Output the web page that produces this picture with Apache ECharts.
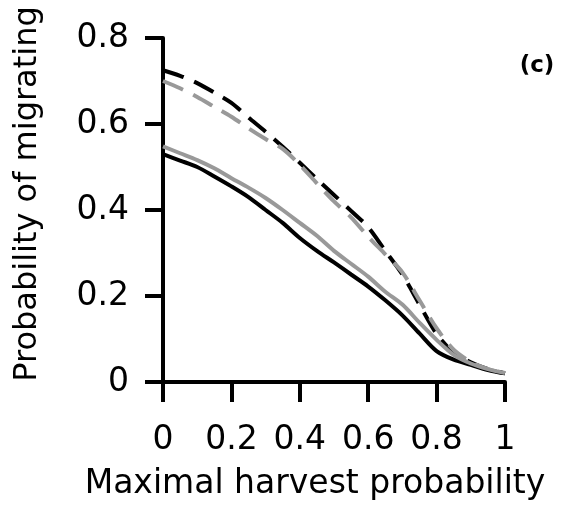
<!DOCTYPE html>
<html>
<head>
<meta charset="utf-8">
<script src="https://cdn.jsdelivr.net/npm/echarts@6/dist/echarts.min.js"></script>
<style>
  html, body { margin: 0; padding: 0; background: #fff; }
  #chart { width: 561px; height: 506px; }
</style>
</head>
<body>
<div id="chart"></div>
<script>
// Maximal harvest probability (x)
const harvest = [0, 0.05, 0.1, 0.15, 0.2, 0.25, 0.3, 0.35, 0.4, 0.45, 0.5,
                 0.55, 0.6, 0.65, 0.7, 0.75, 0.8, 0.85, 0.9, 0.95, 1];

// Probability of migrating for the four scenarios
const blackDashed = [0.725, 0.712, 0.695, 0.673, 0.649, 0.615, 0.582, 0.547, 0.51, 0.472, 0.435,
                     0.398, 0.36, 0.305, 0.25, 0.18, 0.112, 0.068, 0.046, 0.03, 0.02];
const grayDashed  = [0.70, 0.683, 0.663, 0.64, 0.617, 0.59, 0.565, 0.542, 0.505, 0.462, 0.42,
                     0.383, 0.338, 0.297, 0.255, 0.19, 0.125, 0.075, 0.047, 0.03, 0.02];
const blackSolid  = [0.53, 0.515, 0.5, 0.478, 0.455, 0.43, 0.40, 0.37, 0.335, 0.305, 0.278,
                     0.25, 0.222, 0.19, 0.155, 0.113, 0.072, 0.052, 0.04, 0.028, 0.02];
const graySolid   = [0.548, 0.532, 0.516, 0.497, 0.474, 0.452, 0.428, 0.40, 0.37, 0.34, 0.305,
                     0.275, 0.245, 0.21, 0.18, 0.138, 0.098, 0.063, 0.043, 0.03, 0.021];

const panelLabel = '(c)';
const xName = 'Maximal harvest probability';
const yName = 'Probability of migrating';

const FONT = '"DejaVu Sans", Verdana, sans-serif';
const BLACK = '#000000';
const GRAY = '#999999';

function pairs(ys) {
  return harvest.map((x, i) => [x, ys[i]]);
}

function line(name, ys, color, dashed) {
  return {
    name: name,
    type: 'line',
    data: pairs(ys),
    smooth: 0.3,
    symbol: 'none',
    lineStyle: {
      color: color,
      width: 4,
      type: dashed ? [22, 11] : 'solid',
      cap: 'butt'
    },
    animation: false
  };
}

const chart = echarts.init(document.getElementById('chart'), null, { renderer: 'canvas' });

chart.setOption({
  backgroundColor: '#ffffff',
  animation: false,
  grid: { left: 163, right: 56, top: 38, bottom: 124 },
  xAxis: {
    type: 'value',
    min: 0,
    max: 1,
    interval: 0.2,
    axisLine: { onZero: false, lineStyle: { color: BLACK, width: 4 } },
    axisTick: { inside: false, length: 20, lineStyle: { color: BLACK, width: 4 } },
    axisLabel: { color: BLACK, fontFamily: FONT, fontSize: 33, margin: 42 },
    splitLine: { show: false }
  },
  yAxis: {
    type: 'value',
    min: 0,
    max: 0.8,
    interval: 0.2,
    axisLine: { show: true, lineStyle: { color: BLACK, width: 4 } },
    axisTick: { show: true, inside: false, length: 18, lineStyle: { color: BLACK, width: 4 } },
    axisLabel: { color: BLACK, fontFamily: FONT, fontSize: 33, margin: 34 },
    splitLine: { show: false }
  },
  series: [
    line('Black dashed', blackDashed, BLACK, true),
    line('Gray dashed', grayDashed, GRAY, true),
    line('Black solid', blackSolid, BLACK, false),
    line('Gray solid', graySolid, GRAY, false)
  ],
  graphic: [
    {
      type: 'text',
      x: 537, y: 66,
      style: {
        text: panelLabel, fill: BLACK, fontFamily: FONT, fontSize: 23, fontWeight: 'bold',
        align: 'center', verticalAlign: 'middle'
      }
    },
    {
      type: 'text',
      x: 315, y: 484,
      style: {
        text: xName, fill: BLACK, fontFamily: FONT, fontSize: 33,
        align: 'center', verticalAlign: 'middle'
      }
    },
    {
      type: 'text',
      x: 28, y: 194,
      rotation: Math.PI / 2,
      style: {
        text: yName, fill: BLACK, fontFamily: FONT, fontSize: 32,
        align: 'center', verticalAlign: 'middle'
      }
    }
  ]
});
</script>
</body>
</html>
